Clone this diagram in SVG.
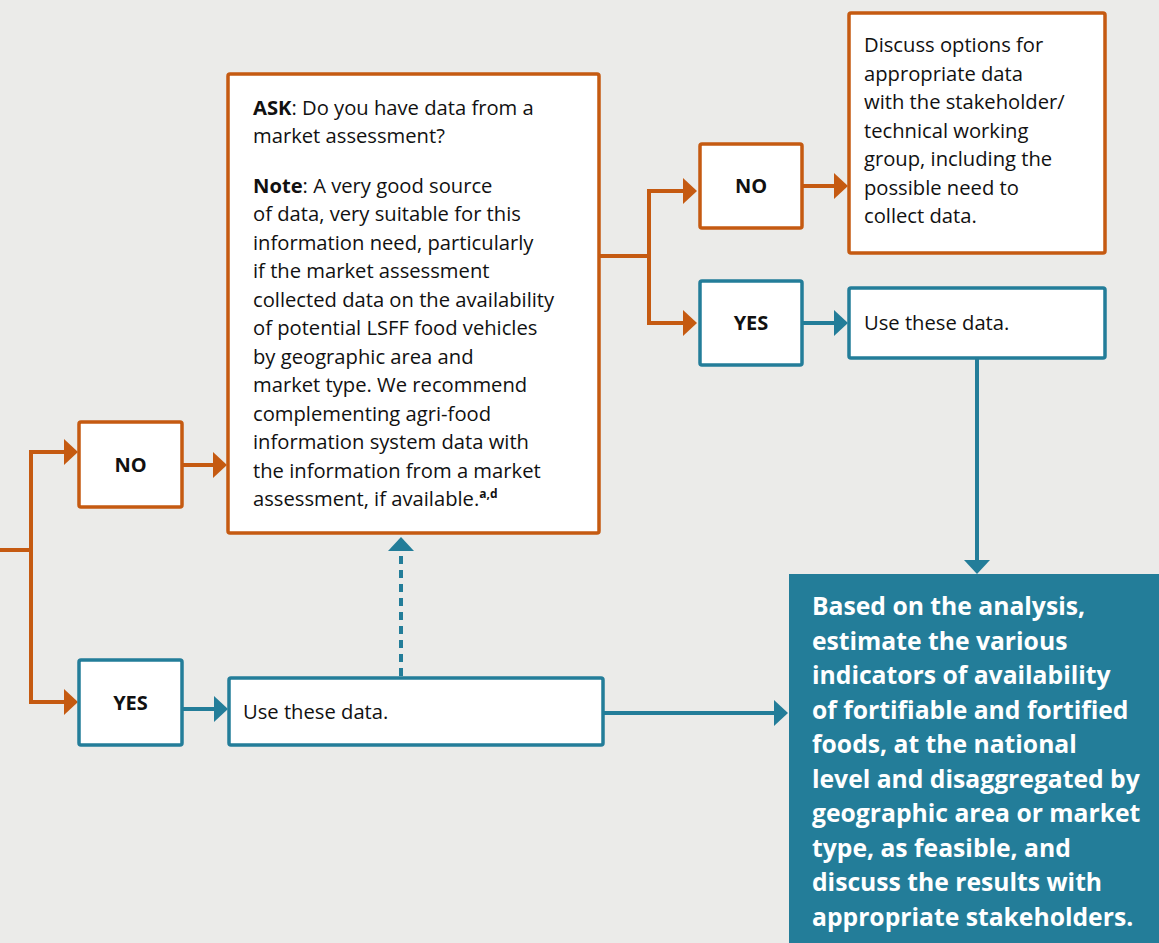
<svg xmlns="http://www.w3.org/2000/svg" width="1159" height="943" viewBox="0 0 1159 943">
<style>
.bg{fill:#EBEBE9}
.bo{fill:#fff;stroke:#C55A11;stroke-width:3.5}
.bt{fill:#fff;stroke:#237D99;stroke-width:3.5}
.lo{fill:none;stroke:#C55A11;stroke-width:4}
.lt{fill:none;stroke:#237D99;stroke-width:4}
.t{font-family:"Open Sans",Lato,"Liberation Sans",sans-serif;font-size:20.2px;fill:#111}
.b{font-weight:bold}
.yn{font-family:"Open Sans",Lato,"Liberation Sans",sans-serif;font-size:20px;font-weight:bold;fill:#111;text-anchor:middle}
.w{font-family:"Open Sans",Lato,"Liberation Sans",sans-serif;font-size:24.7px;font-weight:bold;fill:#fff}
</style>
<defs>
<marker id="ao" viewBox="0 0 14 26" refX="1" refY="13" markerWidth="14" markerHeight="26" markerUnits="userSpaceOnUse" orient="auto"><path d="M0 0L14 13L0 26Z" fill="#C55A11"/></marker>
<marker id="at" viewBox="0 0 14 26" refX="1" refY="13" markerWidth="14" markerHeight="26" markerUnits="userSpaceOnUse" orient="auto"><path d="M0 0L14 13L0 26Z" fill="#237D99"/></marker>
</defs>
<rect class="bg" x="0" y="0" width="1159" height="943"/>
<g id="connectors">
<path class="lo" d="M0 550H31"/>
<path class="lo" d="M31 552V452H65" marker-end="url(#ao)"/>
<path class="lo" d="M31 548V702H65" marker-end="url(#ao)"/>
<path class="lo" d="M182 465H214" marker-end="url(#ao)"/>
<path class="lo" d="M599 256H649"/>
<path class="lo" d="M649 258V191H684" marker-end="url(#ao)"/>
<path class="lo" d="M649 254V323H684" marker-end="url(#ao)"/>
<path class="lo" d="M802 186H835" marker-end="url(#ao)"/>
<path class="lt" d="M802 323H835" marker-end="url(#at)"/>
<path class="lt" d="M977 359V561" marker-end="url(#at)"/>
<path class="lt" d="M182 709H215" marker-end="url(#at)"/>
<path class="lt" d="M603 713H775" marker-end="url(#at)"/>
<path class="lt" d="M401 676V550" stroke-dasharray="8 6" marker-end="url(#at)"/>
</g>
<g id="no-left">
<rect class="bo" x="79" y="422" width="103" height="85" rx="2"/>
<text class="yn" x="130.5" y="472">NO</text>
</g>
<g id="yes-left">
<rect class="bt" x="79" y="660" width="103" height="85" rx="2"/>
<text class="yn" x="130.5" y="710">YES</text>
</g>
<g id="ask">
<rect class="bo" x="228" y="74" width="371" height="459" rx="2"/>
<text class="t" x="253"><tspan x="253" y="115"><tspan class="b">ASK</tspan>: Do you have data from a</tspan><tspan x="253" y="143">market assessment?</tspan><tspan x="253" y="193"><tspan class="b">Note</tspan>: A very good source</tspan><tspan x="253" y="221">of data, very suitable for this</tspan><tspan x="253" y="249.5">information need, particularly</tspan><tspan x="253" y="278">if the market assessment</tspan><tspan x="253" y="306.5">collected data on the availability</tspan><tspan x="253" y="335">of potential LSFF food vehicles</tspan><tspan x="253" y="363.5">by geographic area and</tspan><tspan x="253" y="392">market type. We recommend</tspan><tspan x="253" y="420.5">complementing agri-food</tspan><tspan x="253" y="449">information system data with</tspan><tspan x="253" y="477.5">the information from a market</tspan><tspan x="253" y="506">assessment, if available.<tspan font-size="12" font-weight="bold" dy="-8">a,d</tspan></tspan></text>
</g>
<g id="no-right">
<rect class="bo" x="700" y="144" width="102" height="84" rx="2"/>
<text class="yn" x="751" y="193">NO</text>
</g>
<g id="yes-right">
<rect class="bt" x="700" y="281" width="102" height="84" rx="2"/>
<text class="yn" x="751" y="330">YES</text>
</g>
<g id="discuss">
<rect class="bo" x="849" y="13" width="256" height="240" rx="2"/>
<text class="t"><tspan x="864" y="52">Discuss options for</tspan><tspan x="864" y="80.5">appropriate data</tspan><tspan x="864" y="109">with the stakeholder/</tspan><tspan x="864" y="137.5">technical working</tspan><tspan x="864" y="166">group, including the</tspan><tspan x="864" y="194.5">possible need to</tspan><tspan x="864" y="223">collect data.</tspan></text>
</g>
<g id="use-top">
<rect class="bt" x="849" y="288" width="256" height="70" rx="2"/>
<text class="t" x="864" y="330">Use these data.</text>
</g>
<g id="use-bottom">
<rect class="bt" x="229" y="678" width="374" height="67" rx="2"/>
<text class="t" x="243" y="719">Use these data.</text>
</g>
<g id="result">
<rect x="789" y="574" width="370" height="369" fill="#237D99"/>
<text class="w"><tspan x="812" y="615">Based on the analysis,</tspan><tspan x="812" y="649.5">estimate the various</tspan><tspan x="812" y="684">indicators of availability</tspan><tspan x="812" y="718.5">of fortifiable and fortified</tspan><tspan x="812" y="753">foods, at the national</tspan><tspan x="812" y="787.5">level and disaggregated by</tspan><tspan x="812" y="822">geographic area or market</tspan><tspan x="812" y="856.5">type, as feasible, and</tspan><tspan x="812" y="891">discuss the results with</tspan><tspan x="812" y="925.5">appropriate stakeholders.</tspan></text>
</g>
</svg>
